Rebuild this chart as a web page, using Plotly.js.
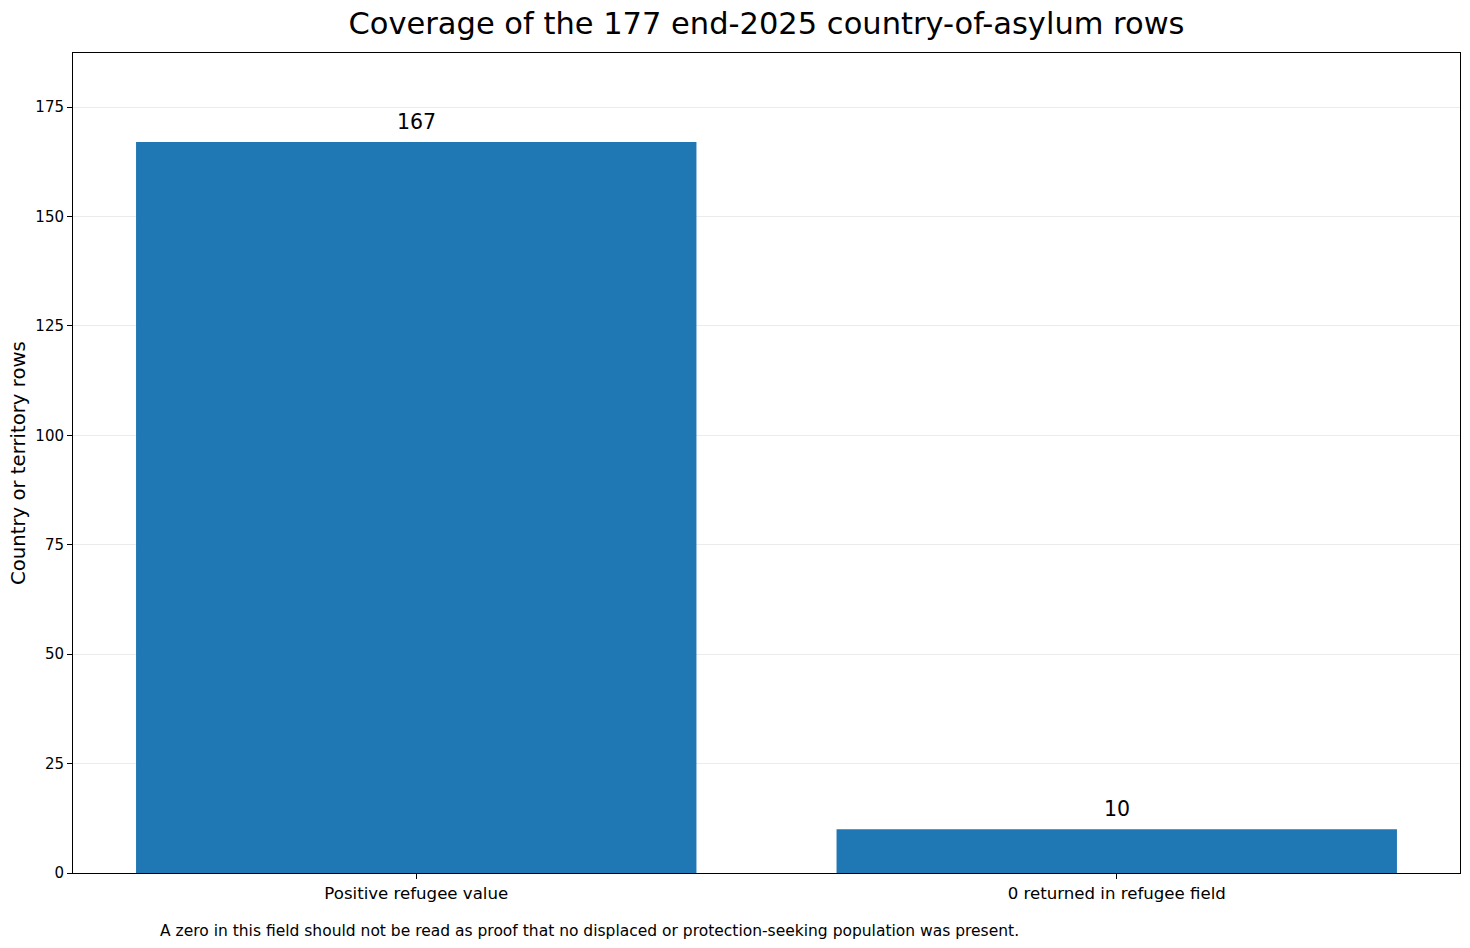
<!DOCTYPE html>
<html>
<head>
<meta charset="utf-8">
<script src="https://cdn.plot.ly/plotly-3.0.1.min.js"></script>
<style>
  html, body { margin: 0; padding: 0; background: #fff; }
  #chart { width: 1470px; height: 948px; }
</style>
</head>
<body>
<div id="chart"></div>
<script>
const categories = ["Positive refugee value", "0 returned in refugee field"];
const rowCounts = [167, 10];
const yTicks = [0, 25, 50, 75, 100, 125, 150, 175];

const font = "DejaVu Sans, sans-serif";

var trace = {
  x: [0, 1],
  y: rowCounts,
  type: "bar",
  width: 0.8,
  marker: { color: "#1f77b4" },
  hoverinfo: "skip",
};

// value labels above each bar
var barLabels = rowCounts.map((v, i) => ({
  text: String(v),
  x: i,
  y: v,
  xref: "x",
  yref: "y",
  xanchor: "center",
  yanchor: "bottom",
  yshift: 6,
  showarrow: false,
  font: { family: font, size: 20.5, color: "#000" },
}));

var layout = {
  width: 1470,
  height: 948,
  margin: { l: 73, r: 10, t: 53, b: 75 },
  paper_bgcolor: "#fff",
  plot_bgcolor: "#fff",
  showlegend: false,
  title: {
    text: "Coverage of the 177 end-2025 country-of-asylum rows",
    font: { family: font, size: 30.5, color: "#000" },
    xref: "paper",
    x: 0.5,
    xanchor: "center",
    y: 0.975,
    yanchor: "middle",
  },
  xaxis: {
    range: [-0.49, 1.49],
    tickvals: [0, 1],
    ticktext: categories,
    ticks: "outside",
    ticklen: 5,
    tickcolor: "#000",
    tickfont: { family: font, size: 16.6, color: "#000" },
    showgrid: false,
    zeroline: false,
    showline: true,
    linecolor: "#000",
    linewidth: 1,
    mirror: true,
  },
  yaxis: {
    range: [0, 187.35],
    tickvals: yTicks,
    ticks: "outside",
    ticklen: 5,
    tickcolor: "#000",
    tickfont: { family: font, size: 15, color: "#000" },
    showgrid: true,
    gridcolor: "#ebebeb",
    gridwidth: 1,
    zeroline: false,
    showline: true,
    linecolor: "#000",
    linewidth: 1,
    mirror: true,
  },
  annotations: barLabels.concat([
    {
      // y axis title, placed by hand
      text: "Country or territory rows",
      xref: "paper",
      yref: "paper",
      x: (18 - 73) / 1387,
      xanchor: "center",
      y: 0.5,
      yanchor: "middle",
      textangle: -90,
      showarrow: false,
      font: { family: font, size: 19.7, color: "#000" },
    },
    {
      text: "A zero in this field should not be read as proof that no displaced or protection-seeking population was present.",
      xref: "paper",
      yref: "paper",
      x: (158 - 73) / 1387,
      xanchor: "left",
      y: -(931 - 873) / 820,
      yanchor: "middle",
      showarrow: false,
      font: { family: font, size: 15.5, color: "#000" },
    },
  ]),
};

Plotly.newPlot("chart", [trace], layout, { displayModeBar: false, staticPlot: true });
</script>
</body>
</html>
